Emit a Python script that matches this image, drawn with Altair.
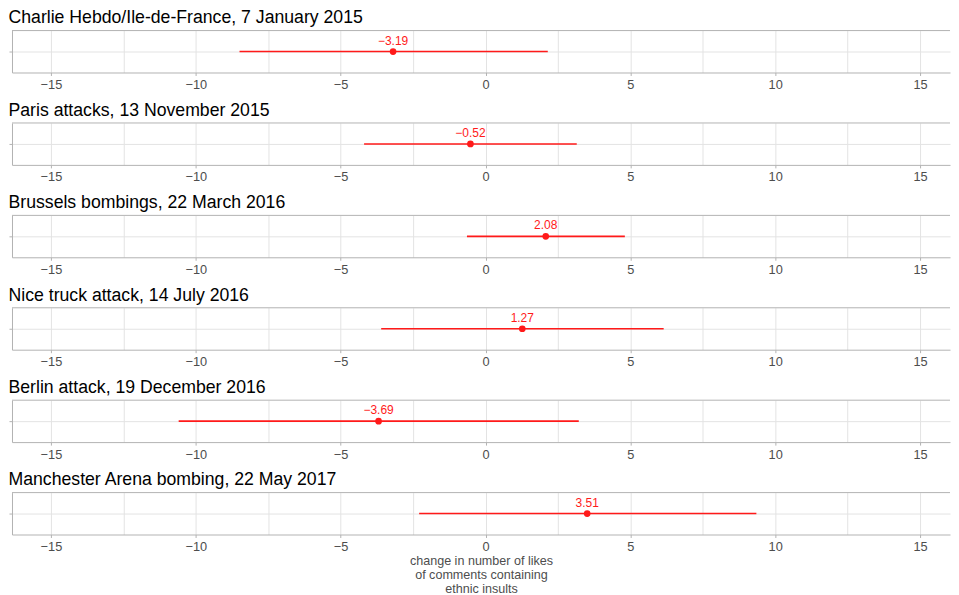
import altair as alt
import pandas as pd

events = [
    "Charlie Hebdo/Ile-de-France, 7 January 2015",
    "Paris attacks, 13 November 2015",
    "Brussels bombings, 22 March 2016",
    "Nice truck attack, 14 July 2016",
    "Berlin attack, 19 December 2016",
    "Manchester Arena bombing, 22 May 2017",
]
estimates = [-3.19, -0.52, 2.08, 1.27, -3.69, 3.51]
lowers = [-8.49, -4.19, -0.64, -3.60, -10.59, -2.29]
uppers = [2.15, 3.15, 4.81, 6.15, 3.22, 9.35]

grid_values = [-15, -12.5, -10, -7.5, -5, -2.5, 0, 2.5, 5, 7.5, 10, 12.5, 15]
axis_title = ["change in number of likes", "of comments containing", "ethnic insults"]

FONT = "Liberation Sans"
RED = "#FF1A1A"
BORDER = "#b3b3b3"
GRID = "#e3e3e3"
TEXTGREY = "#4d4d4d"
W = 940
H = 42
XDOM = [-16.343, 16.033]

panels = []
for i, ev in enumerate(events):
    df = pd.DataFrame({
        "event": [ev],
        "est": [estimates[i]],
        "lo": [lowers[i]],
        "hi": [uppers[i]],
        "yy": [1],
        "label": [f"{estimates[i]:.2f}".replace("-", "\u2212")],
    })
    last = i == len(events) - 1
    xaxis = alt.Axis(
        values=grid_values,
        labelExpr="datum.value % 5 == 0 ? datum.label : ''",
        tickColor={"condition": {"test": "datum.value % 5 == 0", "value": BORDER}, "value": "transparent"},
        tickSize=3,
        gridColor=GRID,
        domainColor=BORDER,
        labelColor=TEXTGREY,
        labelFont=FONT,
        labelFontSize=12.8,
        labelPadding=3,
        title=axis_title if last else None,
        titleFont=FONT,
        titleFontSize=12.6,
        titleFontWeight="normal",
        titleColor=TEXTGREY,
        titlePadding=1,
        titleLineHeight=14.2,
    )
    xs = alt.Scale(domain=XDOM, nice=False, zero=False)
    yaxis = alt.Axis(values=[1], labels=False, tickSize=3, tickColor=BORDER,
                     domainColor=BORDER, gridColor=GRID, title=None,
                     labelPadding=0, minExtent=3, maxExtent=3)
    ys = alt.Scale(domain=[0, 2])
    base = alt.Chart(df)
    rule = base.mark_rule(color=RED, strokeWidth=1.6).encode(
        x=alt.X("lo:Q", scale=xs, axis=xaxis),
        x2="hi:Q",
        y=alt.Y("yy:Q", scale=ys, axis=yaxis),
    )
    pt = base.mark_circle(color=RED, size=45, opacity=1).encode(
        x=alt.X("est:Q", scale=xs, axis=xaxis),
        y=alt.Y("yy:Q", scale=ys, axis=yaxis),
    )
    txt = base.mark_text(color=RED, font=FONT, fontSize=12, baseline="alphabetic", dy=-7).encode(
        x=alt.X("est:Q", scale=xs, axis=xaxis),
        y=alt.Y("yy:Q", scale=ys, axis=yaxis),
        text="label:N",
    )
    top = base.mark_rule(color=BORDER, strokeWidth=1).encode(
        x=alt.value(0), x2=alt.value(W), y=alt.value(0)
    )
    panel = alt.layer(rule, pt, txt, top).properties(
        width=W, height=H,
        title=alt.TitleParams(ev, anchor="start", font=FONT, fontSize=17.7,
                              fontWeight="normal", color="black", offset=3),
    )
    panels.append(panel)

chart = alt.vconcat(*panels, spacing=9.6).properties(
    padding={"left": 0, "top": 0, "right": 0, "bottom": 0}
).configure_view(stroke=None).configure_axis(gridWidth=1, domainWidth=1)

chart.save("out.html", embed_options={"renderer": "svg", "actions": False})
